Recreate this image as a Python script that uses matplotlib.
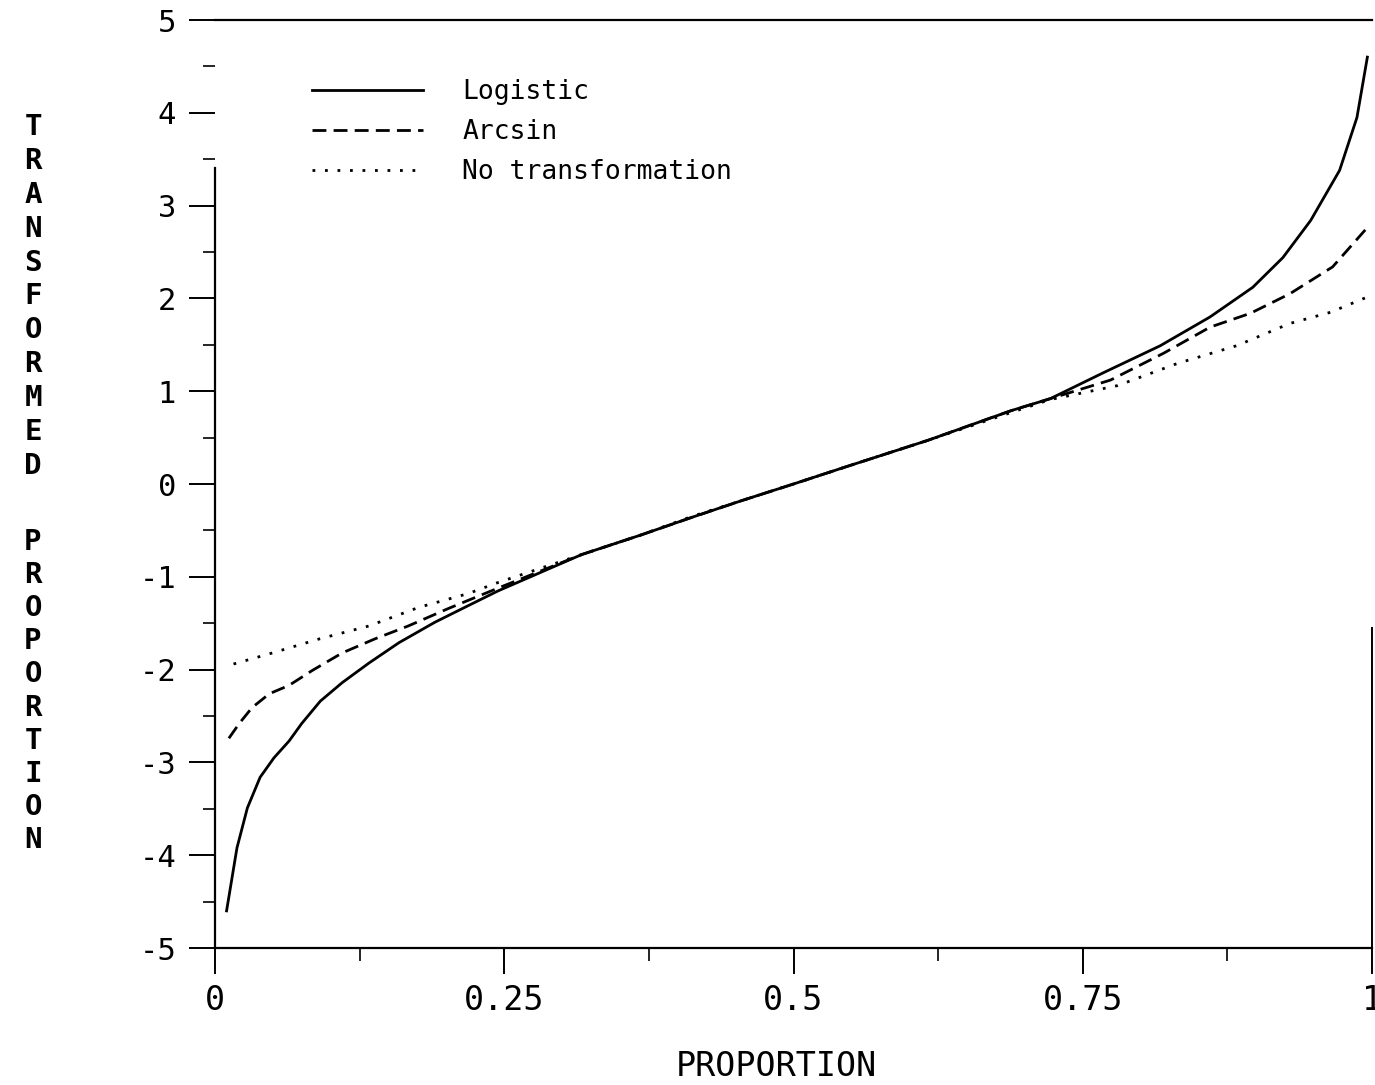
import matplotlib
matplotlib.use("Agg")
import matplotlib.pyplot as plt
from matplotlib.ticker import FixedLocator, MultipleLocator

# values
logit_p = [0.010, 0.019, 0.028, 0.039, 0.051, 0.064, 0.075, 0.091, 0.110, 0.133,
           0.159, 0.190, 0.219, 0.245, 0.317, 0.368, 0.412, 0.455, 0.500, 0.544,
           0.616, 0.688, 0.722, 0.768, 0.817, 0.860, 0.897, 0.923, 0.947, 0.972,
           0.987, 0.996]
logit_y = [-4.60, -3.92, -3.49, -3.16, -2.95, -2.77, -2.58, -2.34, -2.14, -1.93,
           -1.71, -1.49, -1.31, -1.15, -0.76, -0.55, -0.36, -0.18, 0.00, 0.18,
           0.47, 0.79, 0.92, 1.20, 1.49, 1.80, 2.12, 2.44, 2.84, 3.38,
           3.95, 4.60]

arcsin_p = [0.012, 0.021, 0.032, 0.047, 0.064, 0.084, 0.110, 0.138, 0.167, 0.202,
            0.245, 0.317, 0.368, 0.412, 0.455, 0.500, 0.544, 0.616, 0.688, 0.722,
            0.774, 0.820, 0.860, 0.895, 0.929, 0.966, 0.995]
arcsin_y = [-2.74, -2.58, -2.41, -2.26, -2.17, -2.01, -1.82, -1.67, -1.53, -1.34,
            -1.12, -0.76, -0.55, -0.36, -0.18, 0.00, 0.18, 0.47, 0.79, 0.92,
            1.12, 1.41, 1.69, 1.84, 2.05, 2.34, 2.75]

raw_p = [0.016, 0.047, 0.090, 0.133, 0.176, 0.219, 0.245, 0.317, 0.368, 0.412,
         0.455, 0.500, 0.544, 0.616, 0.688, 0.722, 0.780, 0.832, 0.883, 0.929,
         0.964, 0.995]
raw_y = [-1.94, -1.83, -1.67, -1.53, -1.33, -1.18, -1.06, -0.76, -0.55, -0.35,
         -0.18, 0.00, 0.18, 0.47, 0.77, 0.91, 1.06, 1.30, 1.49, 1.73,
         1.85, 2.01]

series_names = ["Logistic", "Arcsin", "No transformation"]
x_ticks = [0, 0.25, 0.5, 0.75, 1]
x_ticklabels = ["0", "0.25", "0.5", "0.75", "1"]
y_ticks = [5, 4, 3, 2, 1, 0, -1, -2, -3, -4, -5]
y_ticklabels = ["5", "4", "3", "2", "1", "0", "-1", "-2", "-3", "-4", "-5"]

plt.rcParams["font.family"] = ["DejaVu Sans Mono"]
plt.rcParams["axes.unicode_minus"] = False

fig = plt.figure(figsize=(13.75, 10.85), dpi=100)
ax = fig.add_axes([215 / 1375, 1 - 948 / 1085, 1157 / 1375, 928 / 1085])

ax.plot(logit_p, logit_y, color="black", lw=2.0, label=series_names[0])
ax.plot(arcsin_p, arcsin_y, color="black", lw=2.0, dashes=(5, 2.6), label=series_names[1])
ax.plot(raw_p, raw_y, color="black", lw=2.0, linestyle=(0, (1, 3.5)), label=series_names[2])

ax.set_xlim(0, 1)
ax.set_ylim(-5, 5)

ax.xaxis.set_major_locator(FixedLocator(x_ticks))
ax.set_xticklabels(x_ticklabels)
ax.xaxis.set_minor_locator(MultipleLocator(0.125))
ax.yaxis.set_major_locator(FixedLocator(y_ticks))
ax.set_yticklabels(y_ticklabels)
ax.yaxis.set_minor_locator(MultipleLocator(0.5))

ax.tick_params(axis="x", which="major", direction="out", length=19, width=1.4,
               pad=7, labelsize=24)
ax.tick_params(axis="x", which="minor", direction="out", length=9, width=1.2)
ax.tick_params(axis="y", which="major", direction="out", length=19, width=1.4,
               pad=9, labelsize=22)
ax.tick_params(axis="y", which="minor", direction="out", length=9, width=1.2)

for side in ["left", "bottom", "top"]:
    ax.spines[side].set_linewidth(1.6)
ax.spines["right"].set_linewidth(1.4)
ax.spines["left"].set_bounds(-5, 3.4)
ax.spines["right"].set_bounds(-5, -1.55)

ax.set_xlabel("PROPORTION", fontsize=24)
ax.xaxis.set_label_coords((776 - 215) / 1157, -(1050 - 948) / 928)

# stacked upright letters for the y label
for i, ch in enumerate("TRANSFORMED"):
    fig.text(33 / 1375, 1 - (127 + i * 33.9) / 1085, ch, fontsize=21,
             fontweight="bold", ha="center", va="center")
for i, ch in enumerate("PROPORTION"):
    fig.text(33 / 1375, 1 - (542 + i * 33.1) / 1085, ch, fontsize=21,
             fontweight="bold", ha="center", va="center")

leg = ax.legend(loc="upper left", bbox_to_anchor=((312 - 215) / 1157, 0.936),
                frameon=False, fontsize=19, handlelength=4.2, handletextpad=1.5,
                labelspacing=0.52, borderpad=0, borderaxespad=0)

fig.savefig("out.png", dpi=100)
